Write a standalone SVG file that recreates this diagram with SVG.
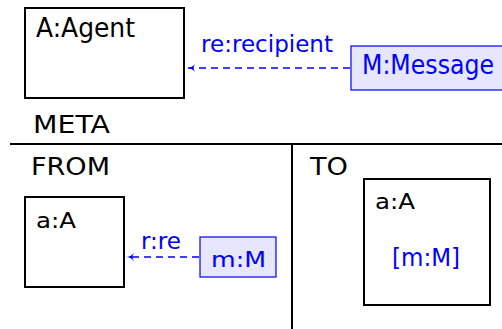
<svg xmlns="http://www.w3.org/2000/svg" width="502" height="329" viewBox="0 0 502 329">
<defs>
<style>
text{font-family:"DejaVu Sans","Liberation Sans",sans-serif;font-size:25px;fill:#000}
.blue{fill:#0000ff}
.box{fill:#fff;stroke:#000;stroke-width:2}
.bbox{fill:#e6e6ff;stroke:#0000ff;stroke-width:1.2}
.conn{stroke:#0000ff;stroke-width:1.3;stroke-dasharray:7 5;fill:none}
.rule{stroke:#000;stroke-width:2}
</style>
<marker id="ah" markerWidth="9" markerHeight="9" refX="7" refY="4.5" orient="auto" markerUnits="userSpaceOnUse">
<path d="M0,0.5 Q3.5,4.5 8,4.5 Q3.5,4.5 0,8.5 L2,4.5 Z" fill="#0000ff"/>
</marker>
</defs>
<g id="agent"><rect class="box" x="25" y="8" width="159" height="90"/><text x="36" y="37" style="font-size:26px" textLength="99" lengthAdjust="spacingAndGlyphs">A:Agent</text></g>
<g id="message"><rect class="bbox" x="351" y="46" width="152" height="44"/><text class="blue" x="362" y="74" style="font-size:26px" textLength="132" lengthAdjust="spacingAndGlyphs">M:Message</text></g>
<g id="meta-label"><text x="33" y="132.5" style="font-size:24px" textLength="77" lengthAdjust="spacingAndGlyphs">META</text></g>
<g id="dividers"><line class="rule" x1="10" y1="144" x2="502" y2="144"/><line class="rule" x1="292" y1="144" x2="292" y2="329"/></g>
<g id="from-label"><text x="31" y="175" textLength="79" lengthAdjust="spacingAndGlyphs">FROM</text></g>
<g id="to-label"><text x="310" y="175" textLength="38" lengthAdjust="spacingAndGlyphs">TO</text></g>
<g id="from-a"><rect class="box" x="25" y="197" width="99" height="90"/><text x="36" y="228" style="font-size:22px" textLength="40" lengthAdjust="spacingAndGlyphs">a:A</text></g>
<g id="from-m"><rect class="bbox" x="200" y="237" width="76" height="40"/><text class="blue" x="211" y="267" style="font-size:22px" textLength="55" lengthAdjust="spacingAndGlyphs">m:M</text></g>
<g id="to-a"><rect class="box" x="364" y="179" width="126" height="126"/><text x="375" y="209" style="font-size:22px" textLength="40" lengthAdjust="spacingAndGlyphs">a:A</text><text class="blue" x="392" y="266" style="font-size:24px" textLength="68" lengthAdjust="spacingAndGlyphs">[m:M]</text></g>
<g id="connectors">
<line class="conn" x1="350" y1="68" x2="188" y2="68" marker-end="url(#ah)"/>
<text class="blue" x="201" y="52" style="font-size:23px" textLength="132" lengthAdjust="spacingAndGlyphs">re:recipient</text>
<line class="conn" x1="199" y1="257" x2="127" y2="257" marker-end="url(#ah)"/>
<text class="blue" x="141" y="249" style="font-size:23px" textLength="40" lengthAdjust="spacingAndGlyphs">r:re</text>
</g>
</svg>
